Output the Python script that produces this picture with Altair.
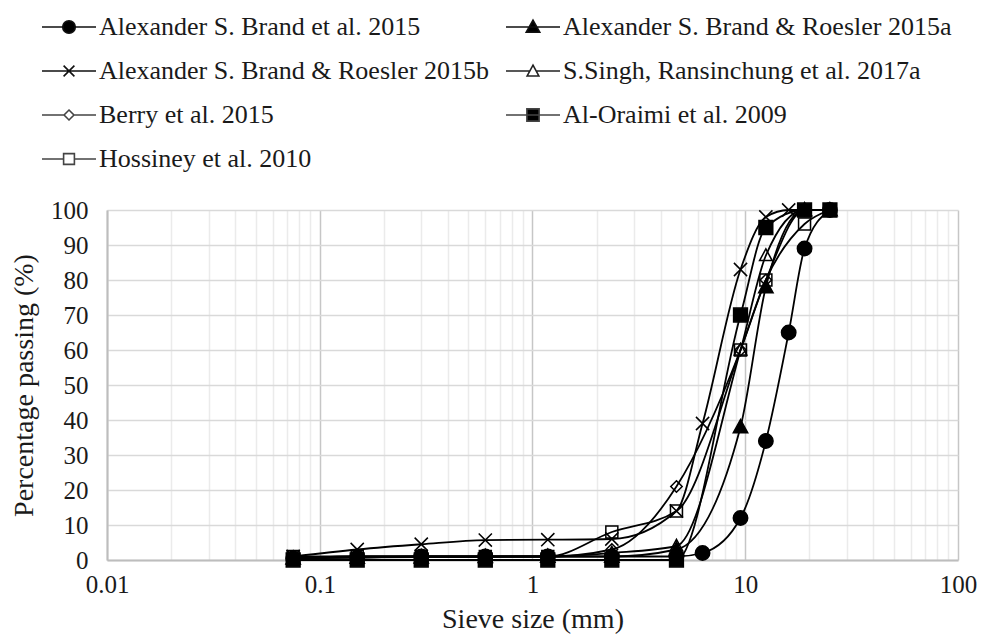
import altair as alt
import pandas as pd

# Sieve sizes (mm) shared by all gradations
sieve_mm = [0.075, 0.15, 0.3, 0.6, 1.18, 2.36, 4.75, 6.3, 9.5, 12.5, 16, 19, 25]

series_names = [
    "Alexander S. Brand et al. 2015",
    "Alexander S. Brand & Roesler 2015a",
    "Alexander S. Brand & Roesler 2015b",
    "S.Singh, Ransinchung et al. 2017a",
    "Berry et al. 2015",
    "Al-Oraimi et al. 2009",
    "Hossiney et al. 2010",
]

# Percentage passing per sieve (None = sieve not reported)
brand_2015 = [0.5, 0.7, 1, 1, 1, 1, 1, 2, 12, 34, 65, 89, 100]
brand_roesler_2015a = [0.5, 0.7, 0.8, 0.9, 1, 1, 3, None, 38, 78, None, 100, 100]
brand_roesler_2015b = [1, 3, 4.5, 5.7, 5.8, 6, 14, 39, 83, 98, 100, 100, 100]
singh_2017a = [0.5, 1, 1, 1, 1, 2, 4, None, 60, 87, None, 100, 100]
berry_2015 = [0.5, 1, 1, 1, 1, 3, 21, None, 60, 80, None, 100, 100]
al_oraimi_2009 = [0, 0, 0, 0, 0, 0, 0, None, 70, 95, None, 100, 100]
hossiney_2010 = [1, 1, 1, 1, 1, 8, 14, None, 60, 80, None, 96, 100]

series_values = [brand_2015, brand_roesler_2015a, brand_roesler_2015b,
                 singh_2017a, berry_2015, al_oraimi_2009, hossiney_2010]

x_major = [0.01, 0.1, 1, 10, 100]
x_grid = [round(m * d, 6) for d in [0.01, 0.1, 1, 10] for m in range(1, 10)] + [100]
y_ticks = list(range(0, 101, 10))

rows = []
for name, vals in zip(series_names, series_values):
    for i, (s, v) in enumerate(zip(sieve_mm, vals)):
        if v is not None:
            rows.append({"series": name, "sieve": s, "passing": v, "order": i})
df = pd.DataFrame(rows)

# Marker paths in the plot (unit box scaled by symbol size)
plot_shapes = [
    "M1.2,0A1.2,1.2 0 1,1 -1.2,0A1.2,1.2 0 1,1 1.2,0Z",
    "M0,-1.25L1.2,0.95L-1.2,0.95Z",
    "M-1.1,-1.1L1.1,1.1M-1.1,1.1L1.1,-1.1",
    "M0,-1.1L1.05,0.85L-1.05,0.85Z",
    "M0,-0.95L0.95,0L0,0.95L-0.95,0Z",
    "M-1.15,-1.15H1.15V1.15H-1.15Z",
    "M-1,-1H1V1H-1Z",
]
plot_fills = ["black", "black", "transparent", "transparent", "transparent", "black", "transparent"]

# Legend symbols: short line with the marker in the middle
legend_shapes = [
    "M-3,0H-0.7M0.7,0H3M0.7,0A0.7,0.7 0 1,1 -0.7,0A0.7,0.7 0 1,1 0.7,0Z",
    "M-3,0H3M0,-0.75L0.75,0.58L-0.75,0.58Z",
    "M-3,0H3M-0.6,-0.6L0.6,0.6M-0.6,0.6L0.6,-0.6",
    "M-3,0H-0.35M0.35,0H3M0,-0.65L0.65,0.55L-0.65,0.55Z",
    "M-3,0H-0.55M0.55,0H3M0,-0.55L0.55,0L0,0.55L-0.55,0Z",
    "M-3,0H3M-0.68,-0.68H0.68V0.68H-0.68Z",
    "M-3,0H-0.6M0.6,0H3M-0.6,-0.6H0.6V0.6H-0.6Z",
]
legend_fills = ["black", "black", "white", "white", "white", "black", "white"]
legend_strokes = ["#111111", "#111111", "#111111", "#222222", "#444444", "#444444", "#444444"]

FONT = "Liberation Serif"
major_test = "indexof([0.01, 0.1, 1, 10, 100], datum.value) >= 0"

x_enc = alt.X(
    "sieve:Q",
    scale=alt.Scale(type="log", domain=[0.01, 100], nice=False),
    axis=alt.Axis(
        values=x_grid,
        labelExpr=f"{major_test} ? datum.value + '' : ''",
        title="Sieve size (mm)",
        grid=True,
        gridColor={"condition": {"test": major_test, "value": "#c6c6c6"}, "value": "#ebebeb"},
        gridWidth=1.5,
        ticks=False,
        tickSize=0,
        domainColor="#bdbdbd",
        domainWidth=2,
        labelFont=FONT,
        labelFontSize=25,
        labelColor="#1a1a1a",
        labelPadding=12,
        labelFlush=False,
        labelOverlap=False,
        titleFont=FONT,
        titleFontSize=28,
        titleFontWeight="normal",
        titleColor="#1a1a1a",
        titlePadding=8,
    ),
)
y_enc = alt.Y(
    "passing:Q",
    scale=alt.Scale(domain=[0, 100], nice=False),
    axis=alt.Axis(
        values=y_ticks,
        title="Percentage passing (%)",
        grid=True,
        gridColor="#d9d9d9",
        gridWidth=1.5,
        ticks=False,
        tickSize=0,
        domainColor="#bdbdbd",
        domainWidth=2,
        labelFont=FONT,
        labelFontSize=25,
        labelColor="#1a1a1a",
        labelPadding=19,
        titleFont=FONT,
        titleFontSize=28,
        titleFontWeight="normal",
        titleColor="#1a1a1a",
        titlePadding=12,
    ),
)

base = alt.Chart(df)

lines = base.mark_line(interpolate="monotone", strokeWidth=1.8, color="black").encode(
    x=x_enc, y=y_enc, detail="series:N", order="order:Q"
)

points = base.mark_point(strokeWidth=1.5, opacity=1, size=144, stroke="black").encode(
    x=x_enc,
    y=y_enc,
    shape=alt.Shape("series:N", scale=alt.Scale(domain=series_names, range=plot_shapes), legend=None),
    fill=alt.Fill("series:N", scale=alt.Scale(domain=series_names, range=plot_fills), legend=None),
)

legend_opts = dict(
    title=None,
    orient="none",
    direction="horizontal",
    legendX=-51,
    legendY=-196,
    columns=2,
    columnPadding=13,
    rowPadding=18,
    padding=0,
    labelFont=FONT,
    labelFontSize=26,
    labelColor="#1a1a1a",
    labelLimit=600,
    labelOffset=17,
    symbolSize=324,
    symbolStrokeWidth=1.6,
    symbolOpacity=1,
)

key = base.transform_filter("false").mark_point(strokeWidth=1.6, opacity=1).encode(
    x=x_enc,
    y=y_enc,
    shape=alt.Shape("series:N", scale=alt.Scale(domain=series_names, range=legend_shapes),
                    legend=alt.Legend(**legend_opts)),
    fill=alt.Fill("series:N", scale=alt.Scale(domain=series_names, range=legend_fills),
                  legend=alt.Legend(**legend_opts)),
    stroke=alt.Stroke("series:N", scale=alt.Scale(domain=series_names, range=legend_strokes),
                      legend=alt.Legend(**legend_opts)),
)

chart = (
    alt.layer(lines, points, key)
    .resolve_scale(shape="independent", fill="independent", stroke="independent")
    .properties(
        width=851,
        height=350,
        autosize=alt.AutoSizeParams(type="none"),
        padding={"left": 107, "top": 210, "right": 26, "bottom": 77},
        background="white",
    )
    .configure_view(stroke="transparent")
)

chart.save("out.html", embed_options={"renderer": "svg", "actions": False})
